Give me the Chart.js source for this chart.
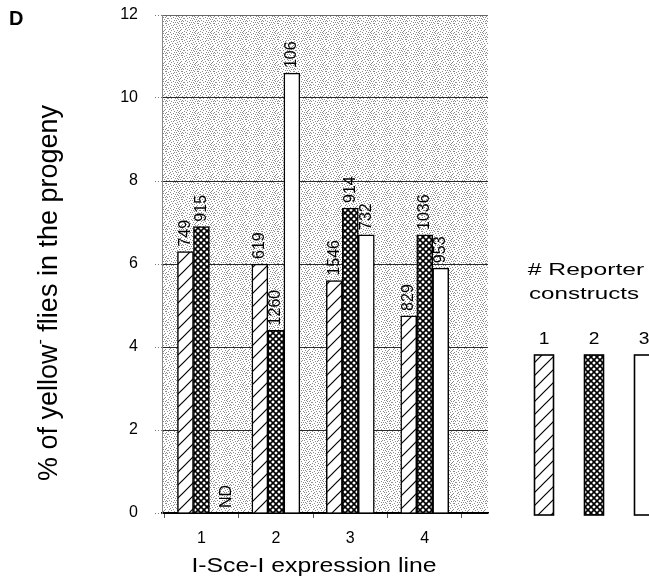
<!DOCTYPE html>
<html><head><meta charset="utf-8">
<script src="https://cdn.jsdelivr.net/npm/chart.js@4.4.1/dist/chart.umd.min.js"></script>
<style>html,body{margin:0;padding:0;background:#fff;}canvas{display:block;}</style>
</head><body>
<canvas id="c" width="649" height="579"></canvas>
<script>
// ---- data ----
const categories = [1, 2, 3, 4];
const tickLabels = ['1', '2', '3', '4'];
const legendLabels = ['1', '2', '3'];
const construct1 = [6.3, 6.0, 5.6, 4.75];
const construct2 = [6.9, 4.4, 7.35, 6.7];
const construct3 = [null, 10.6, 6.7, 5.9];
const counts1 = ['749', '619', '1546', '829'];
const counts2 = ['915', '1260', '914', '1036'];
const counts3 = ['ND', '106', '732', '953'];
const yTicks = [0, 2, 4, 6, 8, 10, 12];
const xTickMarks = [0.5, 1, 1.5, 2, 2.5, 3, 3.5, 4, 4.5];

const FONT = "'Liberation Sans', Arial, sans-serif";
Chart.defaults.font.family = FONT;
Chart.defaults.color = '#000';

const canvas = document.getElementById('c');
const ctx0 = canvas.getContext('2d');

function makePattern(size, drawFn) {
  const p = document.createElement('canvas');
  p.width = size; p.height = size;
  const g = p.getContext('2d');
  drawFn(g, size);
  return ctx0.createPattern(p, 'repeat');
}
// diagonal hatch "/"
const hatch = makePattern(13, (g, s) => {
  g.fillStyle = '#fff'; g.fillRect(0, 0, s, s);
  g.strokeStyle = '#000'; g.lineWidth = 1.2;
  g.beginPath();
  g.moveTo(-2, s + 2); g.lineTo(s + 2, -2);
  g.moveTo(-2, 2); g.lineTo(2, -2);
  g.moveTo(s - 2, s + 2); g.lineTo(s + 2, s - 2);
  g.stroke();
});
// dense cross hatch
const cross = makePattern(6, (g, s) => {
  g.fillStyle = '#fff'; g.fillRect(0, 0, s, s);
  g.strokeStyle = '#000'; g.lineWidth = 1.6;
  g.beginPath();
  g.moveTo(-1, -1); g.lineTo(s + 1, s + 1);
  g.moveTo(s + 1, -1); g.lineTo(-1, s + 1);
  g.stroke();
});
// stippled grey background
const stippleRows = [
  '1010001000100000',
  '0001010000000100',
  '0100000110010001',
  '0010100000000000',
  '1000001001000010',
  '0001010100010000',
  '0100000000000101',
  '0010011000100000',
  '1000000010000010',
  '0001001000010100',
  '0100000001000000',
  '0000100100001001',
  '1010000000100000',
  '0000010001000100',
  '0100100000010000',
  '0001000010000010'
];
const stipple = makePattern(16, (g, s) => {
  g.fillStyle = '#fff'; g.fillRect(0, 0, s, s);
  g.fillStyle = '#8c8c8c';
  stippleRows.forEach((r, y) => { for (let x = 0; x < r.length; x++) if (r[x] === '1') g.fillRect(x, y, 1, 1); });
});
const fills = [hatch, cross, '#ffffff'];
const countSets = [counts1, counts2, counts3];

function drawStretched(ctx, txt, x, y, font, sx, align) {
  ctx.save();
  ctx.font = font;
  ctx.translate(x, y);
  ctx.scale(sx, 1);
  ctx.textAlign = align || 'center';
  ctx.textBaseline = 'middle';
  ctx.fillStyle = '#000';
  ctx.fillText(txt, 0, 0);
  ctx.restore();
}

const decor = {
  id: 'decor',
  beforeDraw(chart) {
    const {ctx, chartArea: a} = chart;
    ctx.save();
    ctx.fillStyle = stipple;
    ctx.fillRect(a.left, a.top, a.right - a.left, a.bottom - a.top);
    ctx.restore();
  },
  afterDatasetsDraw(chart) {
    const ctx = chart.ctx;
    const y0 = chart.scales.y.getPixelForValue(0);
    chart.data.datasets.forEach((ds, di) => {
      const meta = chart.getDatasetMeta(di);
      meta.data.forEach((el, j) => {
        const txt = countSets[di][j];
        const v = ds.data[j].y;
        ctx.save();
        ctx.font = '16px ' + FONT;
        ctx.fillStyle = '#000';
        if (v == null) ctx.translate(el.x + 8, y0 - 5);
        else ctx.translate(el.x - 1, el.y - 5);
        ctx.rotate(-Math.PI / 2);
        ctx.textAlign = 'left';
        ctx.textBaseline = 'middle';
        ctx.fillText(txt, 0, 1);
        ctx.restore();
      });
    });
  },
  afterDraw(chart) {
    const ctx = chart.ctx;
    // panel letter
    ctx.save();
    ctx.font = 'bold 20px ' + FONT;
    ctx.fillStyle = '#000';
    ctx.textBaseline = 'middle';
    ctx.fillText('D', 9, 19);
    ctx.restore();
    // x title
    drawStretched(ctx, 'I-Sce-I expression line', 314, 566, '21px ' + FONT, 1.18, 'center');
    // y title with superscript minus
    ctx.save();
    ctx.translate(50, 293);
    ctx.rotate(-Math.PI / 2);
    ctx.fillStyle = '#000';
    ctx.textBaseline = 'middle';
    ctx.textAlign = 'left';
    const big = '27px ' + FONT, small = '16px ' + FONT;
    const p1 = '% of yellow', p2 = ' flies in the progeny', sup = '-';
    ctx.font = big; const w1 = ctx.measureText(p1).width, w3 = ctx.measureText(p2).width;
    ctx.font = small; const w2 = ctx.measureText(sup).width;
    let x = -(w1 + w2 + w3) / 2;
    ctx.font = big; ctx.fillText(p1, x, 0); x += w1;
    ctx.font = small; ctx.fillText(sup, x, -9); x += w2;
    ctx.font = big; ctx.fillText(p2, x, 0);
    ctx.restore();
    // legend
    drawStretched(ctx, '# Reporter', 586, 270, '17px ' + FONT, 1.45, 'center');
    drawStretched(ctx, 'constructs', 584, 294, '17px ' + FONT, 1.42, 'center');
    const lx = [544, 594, 644];
    const bottom = chart.scales.y.getPixelForValue(0) + 2;
    legendLabels.forEach((lab, i) => {
      drawStretched(ctx, lab, lx[i], 340, '16px ' + FONT, 1.2, 'center');
      ctx.save();
      ctx.fillStyle = fills[i];
      ctx.fillRect(lx[i] - 9.5, 355, 19, bottom - 355);
      ctx.strokeStyle = '#000';
      ctx.lineWidth = 1.6;
      ctx.strokeRect(lx[i] - 9.5, 355, 19, bottom - 355);
      ctx.restore();
    });
  }
};

function series(vals) { return vals.map((v, i) => ({x: categories[i], y: v})); }

new Chart(canvas, {
  type: 'bar',
  data: {
    datasets: [construct1, construct2, construct3].map((vals, i) => ({
      label: legendLabels[i],
      data: series(vals),
      backgroundColor: fills[i],
      borderColor: '#000',
      borderWidth: 1.5,
      borderSkipped: 'start',
      barThickness: 16
    }))
  },
  options: {
    responsive: false,
    animation: false,
    devicePixelRatio: 1,
    layout: {padding: {left: 0, right: 161, top: 15, bottom: 0}},
    plugins: {legend: {display: false}, tooltip: {enabled: false}},
    scales: {
      x: {
        type: 'linear', min: 0.47, max: 4.85, offset: false,
        afterBuildTicks: s => { s.ticks = xTickMarks.map(v => ({value: v})); },
        afterFit: s => { s.height = 66; s.paddingLeft = 0; s.paddingRight = 0; },
        ticks: {
          autoSkip: false, maxRotation: 0, minRotation: 0, padding: 11,
          font: {size: 16}, color: '#000',
          callback: v => { const i = categories.indexOf(v); return i >= 0 ? tickLabels[i] : ''; }
        },
        grid: {
          offset: false, drawOnChartArea: false, tickLength: 5, tickWidth: 1,
          tickColor: c => (c.tick && Number.isInteger(c.tick.value)) ? 'rgba(0,0,0,0)' : '#555'
        },
        border: {color: '#000', width: 1.5}
      },
      y: {
        min: 0, max: 12,
        afterBuildTicks: s => { s.ticks = yTicks.map(v => ({value: v})); },
        afterFit: s => { s.width = 162; s.paddingTop = 0; s.paddingBottom = 0; },
        ticks: {padding: 17, font: {size: 16}, color: '#000'},
        grid: {
          color: c => c.tick && c.tick.value === 0 ? '#000' : (c.tick && c.tick.value === 12 ? '#666' : '#2a2a2a'),
          lineWidth: 1, tickLength: 7, tickColor: '#777', tickBorderDash: [1, 2]
        },
        border: {color: '#888', width: 1}
      }
    }
  },
  plugins: [decor]
});
</script>
</body></html>
